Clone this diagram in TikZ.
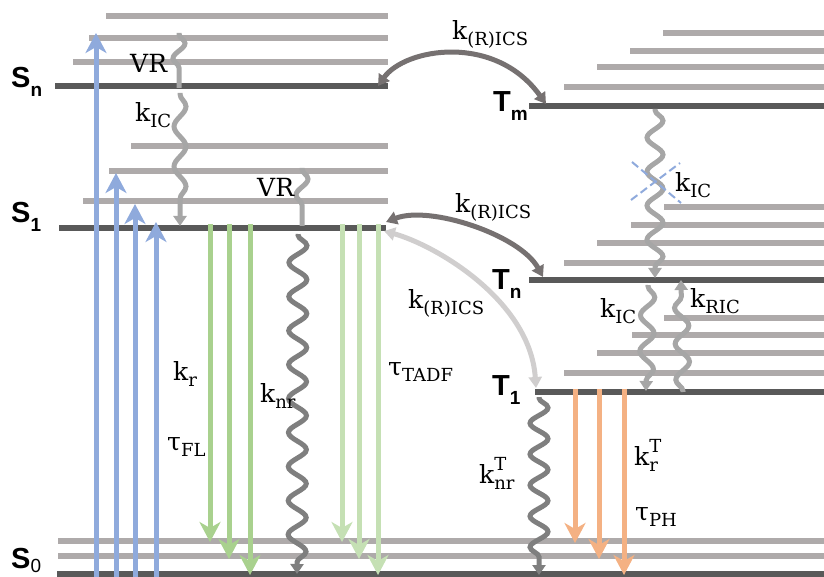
\documentclass[tikz,border=0pt]{standalone}
\usepackage{fontspec}
\newfontfamily\sansb{Liberation Sans}
\newfontfamily\labfont{DejaVu Serif}
\usetikzlibrary{arrows.meta,decorations.pathmorphing}
\definecolor{dk}{HTML}{595959}
\definecolor{gl}{HTML}{AEAAAA}
\definecolor{bl}{HTML}{8FAADC}
\definecolor{gr}{HTML}{A9D18E}
\definecolor{lgr}{HTML}{C5E0B4}
\definecolor{orng}{HTML}{F4B183}
\definecolor{wv}{HTML}{A6A6A6}
\definecolor{dw}{HTML}{7F7F7F}
\definecolor{cv}{HTML}{767171}
\definecolor{lc}{HTML}{D0CECE}
\newcommand\lvlab[3][-9pt]{{\sansb\bfseries\fontsize{29}{30}\selectfont #2\raisebox{#1}{\fontsize{19}{20}\selectfont #3}}}
\newcommand\subsz{\fontsize{18}{20}\selectfont}
\newcommand\rt[2]{#1\raisebox{-6pt}{\subsz #2}}
\newcommand\rts[3]{#1\rlap{\raisebox{13pt}{\subsz #2}}\raisebox{-6pt}{\subsz #3}}
\tikzset{
  lvdark/.style={draw=dk, line width=6.5pt},
  lvgray/.style={draw=gl, line width=5.5pt},
  radarr/.style={line width=5pt, -{Stealth[length=20pt,width=21pt,inset=6pt]}},
  exc/.style={radarr, draw=bl},
  fl/.style={radarr, draw=gr},
  tadf/.style={radarr, draw=lgr},
  ph/.style={radarr, draw=orng},
  wavy/.style n args={2}{decorate, decoration={snake, amplitude=#1, segment length=#2, pre length=1pt, post length=9pt}},
  wl/.style={draw=wv, line width=5pt},
  wd/.style={draw=dw, line width=5pt},
  wtip/.style={-{Triangle[length=10pt,width=13pt]}},
  curvd/.style={draw=cv, line width=5pt, {Triangle[length=11pt,width=13pt]}-{Triangle[length=11pt,width=13pt]}},
  curvl/.style={draw=lc, line width=5pt, {Triangle[length=11pt,width=13pt]}-{Triangle[length=11pt,width=13pt]}},
  lbl/.style={inner sep=0pt, anchor=base west, font=\labfont\fontsize{25}{30}\selectfont},
  lvl/.style={inner sep=0pt, anchor=base west},
  xmark/.style={draw=bl, line width=2pt, dash pattern=on 8pt off 4pt}
}
\begin{document}
\begin{tikzpicture}[x=1pt,y=-1pt]
\useasboundingbox (0,0) rectangle (824,577);
% ---- singlet levels
\foreach \x/\y in {106/16, 89/38, 73/62, 131/146, 109/171, 83/201}
  \draw[lvgray] (\x,\y) -- (388,\y);
\foreach \y in {541,556}
  \draw[lvgray] (58,\y) -- (824,\y);
\coordinate (Snw) at (55,86);  \coordinate (Sne) at (388,86);
\coordinate (S1w) at (59,228); \coordinate (S1e) at (386,228);
\coordinate (S0w) at (57,574); \coordinate (S0e) at (824,574);
\draw[lvdark] (Snw) -- (Sne);
\draw[lvdark] (S1w) -- (S1e);
\draw[lvdark] (S0w) -- (S0e);
% ---- triplet levels
\foreach \x/\y in {663/33, 630/51, 597/67, 564/87, 664/207, 631/225, 597/243, 564/263, 664/318, 632/335, 597/353, 564/373}
  \draw[lvgray] (\x,\y) -- (824,\y);
\coordinate (Tmw) at (529,106); \coordinate (Tme) at (824,106);
\coordinate (Tnw) at (529,280); \coordinate (Tne) at (824,280);
\coordinate (T1w) at (535,392); \coordinate (T1e) at (824,392);
\draw[lvdark] (Tmw) -- (Tme);
\draw[lvdark] (Tnw) -- (Tne);
\draw[lvdark] (T1w) -- (T1e);
% ---- level labels
\node[lvl] (lSn) at (11,88) {\lvlab{S}{n}};
\node[lvl] (lS1) at (11,223) {\lvlab{S}{1}};
\node[lvl] (lS0) at (11,568) {\lvlab[-4pt]{S}{\mdseries 0}};
\node[lvl] (lTm) at (493,112) {\lvlab{T}{m}};
\node[lvl] (lTn) at (492,290) {\lvlab{T}{n}};
\node[lvl] (lT1) at (492,395) {\lvlab{T}{1}};
% ---- excitation arrows
\foreach \i/\x/\t in {1/96/33, 2/116/173, 3/135/204, 4/156/222}{
  \coordinate (ea\i) at (\x,577); \coordinate (eb\i) at (\x,\t);
  \draw[exc] (ea\i) -- (eb\i);}
% ---- fluorescence arrows
\foreach \i/\x/\t in {1/210/542, 2/229/559, 3/250/575}{
  \coordinate (fa\i) at (\x,224); \coordinate (fb\i) at (\x,\t);
  \draw[fl] (fa\i) -- (fb\i);}
\foreach \i/\x/\t in {1/342/542, 2/359/559, 3/378/575}{
  \coordinate (da\i) at (\x,224); \coordinate (db\i) at (\x,\t);
  \draw[tadf] (da\i) -- (db\i);}
% ---- phosphorescence arrows
\foreach \i/\x/\t in {1/575/543, 2/599/559, 3/624/575}{
  \coordinate (pa\i) at (\x,389); \coordinate (pb\i) at (\x,\t);
  \draw[ph] (pa\i) -- (pb\i);}
% ---- wavy arrows
\coordinate (vr1a) at (179,33);  \coordinate (vr1b) at (179,88);
\draw[wl, wavy={6pt}{30pt}] (vr1a) -- (vr1b);
\coordinate (ic1a) at (180,93);  \coordinate (ic1b) at (180,226);
\draw[wl, wavy={6pt}{40pt}, wtip] (ic1a) -- (ic1b);
\coordinate (vr2a) at (302,168); \coordinate (vr2b) at (302,226);
\draw[wl, wavy={6pt}{32pt}] (vr2a) -- (vr2b);
\coordinate (nra) at (298,234);  \coordinate (nrb) at (297,574);
\draw[wd, wavy={9pt}{34pt}, wtip] (nra) -- (nrb);
\coordinate (tma) at (655,109);  \coordinate (tmb) at (655,278);
\draw[wl, wavy={8pt}{34pt}, wtip] (tma) -- (tmb);
\coordinate (ic2a) at (648,285); \coordinate (ic2b) at (646,391);
\draw[wl, wavy={7pt}{36pt}, wtip] (ic2a) -- (ic2b);
\coordinate (rica) at (683,392); \coordinate (ricb) at (681,280);
\draw[wl, wavy={7pt}{36pt}, wtip] (rica) -- (ricb);
\coordinate (nrTa) at (539,397); \coordinate (nrTb) at (539,575);
\draw[wd, wavy={9pt}{31pt}, wtip] (nrTa) -- (nrTb);
% ---- blocked IC mark
\coordinate (xa) at (632,162); \coordinate (xb) at (681,203);
\coordinate (xc) at (631,200); \coordinate (xd) at (680,163);
\draw[xmark] (xa) -- (xb);
\draw[xmark] (xc) -- (xd);
% ---- ISC curves
\coordinate (c1a) at (378,86);  \coordinate (c1b) at (546,104);
\draw[curvd] (c1a) .. controls (405,48) and (495,33) .. (c1b);
\coordinate (c2a) at (386,222); \coordinate (c2b) at (543,277);
\draw[curvd] (c2a) .. controls (430,205) and (520,235) .. (c2b);
\coordinate (c3a) at (384,231); \coordinate (c3b) at (536,388);
\draw[curvl] (c3a) .. controls (435,245) and (530,300) .. (c3b);
% ---- rate labels
\node[lbl] (tVR1) at (130,73) {VR};
\node[lbl] (tIC1) at (135,122) {\rt{k}{IC}};
\node[lbl] (tVR2) at (257,197) {VR};
\node[lbl] (tIS1) at (452,40) {\rt{k}{(R)ICS}};
\node[lbl] (tIC2) at (675,192) {\rt{k}{IC}};
\node[lbl] (tIS2) at (455,213) {\rt{k}{(R)ICS}};
\node[lbl] (tIS3) at (408,308) {\rt{k}{(R)ICS}};
\node[lbl] (tTADF) at (388,375) {\rt{τ}{TADF}};
\node[lbl] (tIC3) at (600,317) {\rt{k}{IC}};
\node[lbl] (tRIC) at (690,307) {\rt{k}{RIC}};
\node[lbl] (tkr) at (173,380) {\rt{k}{r}};
\node[lbl] (tFL) at (167,450) {\rt{τ}{FL}};
\node[lbl] (tknr) at (260,402) {\rt{k}{nr}};
\node[lbl] (tknrT) at (479,483) {\rts{k}{T}{nr}};
\node[lbl] (tkrT) at (634,465) {\rts{k}{T}{r}};
\node[lbl] (tPH) at (635,520) {\rt{τ}{PH}};
\end{tikzpicture}
\end{document}
